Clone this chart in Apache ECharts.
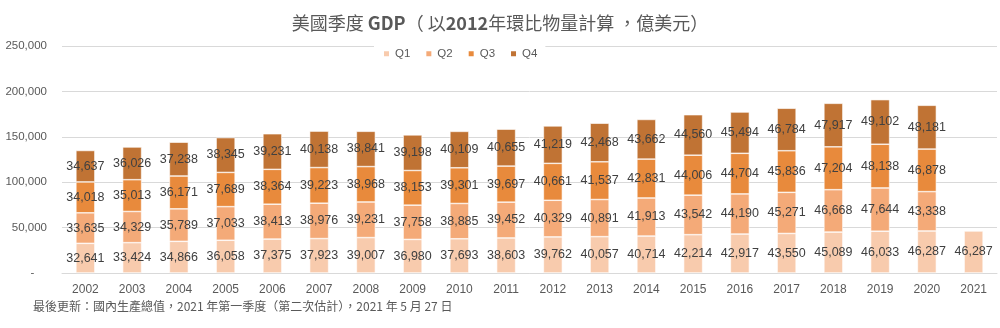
<!DOCTYPE html>
<html><head><meta charset="utf-8">
<script src="https://cdn.jsdelivr.net/npm/echarts@6/dist/echarts.min.js"></script>
<style>html,body{margin:0;padding:0;background:#fff}#c{width:1000px;height:328px}</style>
</head><body><div id="c"></div>
<script>
const years = ['2002','2003','2004','2005','2006','2007','2008','2009','2010','2011','2012','2013','2014','2015','2016','2017','2018','2019','2020','2021'];
const q1 = [32641,33424,34866,36058,37375,37923,39007,36980,37693,38603,39762,40057,40714,42214,42917,43550,45089,46033,46287,46287];
const q2 = [33635,34329,35789,37033,38413,38976,39231,37758,38885,39452,40329,40891,41913,43542,44190,45271,46668,47644,43338,null];
const q3 = [34018,35013,36171,37689,38364,39223,38968,38153,39301,39697,40661,41537,42831,44006,44704,45836,47204,48138,46878,null];
const q4 = [34637,36026,37238,38345,39231,40138,38841,39198,40109,40655,41219,42468,43662,44560,45494,46784,47917,49102,48181,null];
const seriesNames = ['Q1','Q2','Q3','Q4'];
const colors = ['#F8CBAD','#F4AA78','#E88A3C','#C07334'];
const yMax = 250000, yStep = 50000;

const fmt = v => v.toString().replace(/\B(?=(\d{3})+(?!\d))/g, ',');
const font = '"Liberation Sans", "Noto Sans CJK TC", sans-serif';
const cjk = '"Noto Sans CJK TC", sans-serif';
const chart = echarts.init(document.getElementById('c'));
const mk = (name, data, i) => ({
  name, type: 'bar', stack: 'gdp', data, barWidth: 19,
  itemStyle: { color: colors[i], borderColor: '#fff', borderWidth: 0.6 },
  label: { show: true, position: 'inside', color: '#404040', fontSize: 12.5, fontFamily: font,
    formatter: p => p.value == null ? '' : fmt(p.value) }
});
chart.setOption({
  animation: false,
  textStyle: { fontFamily: font },
  title: [{
    text: '{n|美國季度 }{b|GDP}{n|（ 以}{b|2012}{n|年環比物量計算 ，億美元）}',
    left: 'center', top: 9,
    textStyle: { fontWeight: 'normal', rich: {
      n: { fontSize: 18, color: '#595959', fontWeight: 'normal', fontFamily: cjk },
      b: { fontSize: 18, color: '#595959', fontWeight: 'bold', fontFamily: cjk }
    } }
  }, {
    text: '最後更新：國內生產總值，2021 年第一季度（第二次估計），2021 年 5 月 27 日',
    left: 28, top: 295,
    textStyle: { fontSize: 12, color: '#595959', fontWeight: 'normal', fontFamily: cjk }
  }],
  legend: {
    data: seriesNames, top: 44, left: 374, itemWidth: 7, itemHeight: 7, itemGap: 14,
    icon: 'rect', backgroundColor: '#fff', padding: [4, 8, 4, 8],
    textStyle: { color: '#595959', fontSize: 11.5 }
  },
  grid: { left: 62, right: 3, top: 46, bottom: 55 },
  xAxis: {
    type: 'category', data: years,
    axisLine: { lineStyle: { color: '#D9D9D9' } }, axisTick: { show: false },
    axisLabel: { color: '#595959', fontSize: 12, margin: 11 }
  },
  yAxis: {
    type: 'value', min: 0, max: yMax, interval: yStep,
    axisLine: { show: false }, axisTick: { show: false },
    splitLine: { lineStyle: { color: '#D9D9D9', width: 1 } },
    axisLabel: { color: '#595959', fontSize: 11.5, margin: 15,
      formatter: v => v === 0 ? '-    ' : fmt(v) }
  },
  series: [mk('Q1', q1, 0), mk('Q2', q2, 1), mk('Q3', q3, 2), mk('Q4', q4, 3)]
});
</script></body></html>
